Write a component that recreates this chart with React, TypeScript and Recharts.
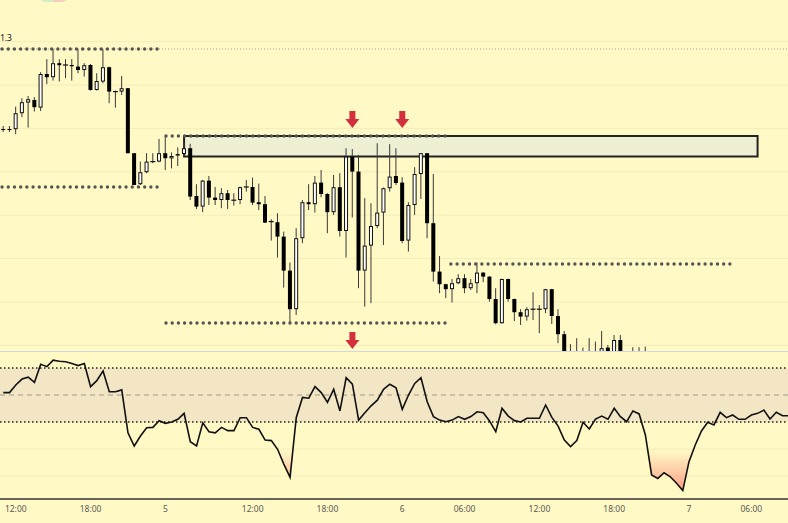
import React from 'react';
import {
  ComposedChart, Bar, Line, Area, XAxis, YAxis, CartesianGrid,
  ReferenceLine, ReferenceArea, ReferenceDot,
} from 'recharts';

// Prices are in points (1e-5 of the quote), 30-minute candles.
const opens = [
  129600, 129600, 129599, 129679, 129732, 129745, 129707, 129875, 129859, 129929,
  129920, 129920, 129912, 129895, 129920, 129795, 129837, 129909, 129787, 129787,
  129804, 129479, 129324, 129384, 129437, 129437, 129479, 129453, 129467, 129475,
  129504, 129265, 129212, 129342, 129257, 129245, 129279, 129244, 129245, 129310,
  129310, 129234, 129224, 129137, 129134, 129062, 128892, 128699, 129054, 129234,
  129224, 129332, 129275, 129184, 129309, 129090, 129462, 129387, 128892, 129017,
  129115, 129182, 129304, 129365, 129332, 129042, 129220, 129375, 129479, 129129,
  128887, 128824, 128799, 128829, 128854, 128804, 128829, 128882, 128862, 128750,
  128629, 128850, 128750, 128684, 128662, 128699, 128699, 128699, 128799, 128665,
  128574, 128435, 128415, 128435, 128445, 128425, 128455, 128507, 128445, 128545,
  128435, 128490, 128485, 128485,
];
const highs = [
  129615, 129615, 129712, 129754, 129765, 129759, 129884, 129949, 129999, 129949,
  129949, 129950, 129999, 129929, 129925, 129879, 129999, 129912, 129792, 129865,
  129805, 129480, 129437, 129479, 129479, 129550, 129562, 129483, 129508, 129533,
  129526, 129324, 129345, 129365, 129310, 129304, 129295, 129279, 129312, 129345,
  129357, 129327, 129265, 129149, 129179, 129087, 128932, 129104, 129245, 129324,
  129365, 129395, 129279, 129370, 129379, 129504, 129500, 129470, 129254, 129229,
  129529, 129307, 129524, 129504, 129359, 129234, 129409, 129480, 129480, 129375,
  128965, 128826, 128850, 128874, 128874, 128850, 128932, 128884, 128864, 128804,
  128852, 128852, 128752, 128699, 128709, 128784, 128720, 128801, 128801, 128699,
  128590, 128524, 128554, 128507, 128554, 128537, 128590, 128520, 128570, 128570,
  128465, 128509, 128509, 128512,
];
const lows = [
  129585, 129585, 129574, 129659, 129607, 129687, 129690, 129824, 129842, 129837,
  129854, 129842, 129879, 129862, 129792, 129792, 129829, 129729, 129707, 129770,
  129478, 129319, 129320, 129379, 129429, 129434, 129395, 129403, 129415, 129462,
  129245, 129200, 129184, 129220, 129220, 129204, 129200, 129217, 129224, 129287,
  129220, 129195, 129130, 129042, 128957, 128807, 128629, 128670, 129029, 129195,
  129182, 129259, 129079, 129170, 129062, 128957, 129157, 128804, 128712, 128729,
  129104, 129020, 129287, 129320, 129029, 128987, 129170, 129250, 129054, 128837,
  128779, 128754, 128732, 128824, 128779, 128795, 128779, 128834, 128737, 128624,
  128627, 128737, 128640, 128620, 128642, 128645, 128579, 128679, 128625, 128529,
  128405, 128385, 128375, 128395, 128385, 128405, 128435, 128415, 128425, 128405,
  128385, 128445, 128435, 128345,
];
const closes = [
  129598, 129598, 129679, 129734, 129749, 129709, 129875, 129859, 129929, 129919,
  129920, 129914, 129895, 129919, 129795, 129840, 129909, 129787, 129787, 129804,
  129479, 129320, 129384, 129437, 129437, 129479, 129454, 129465, 129475, 129504,
  129262, 129212, 129342, 129257, 129245, 129279, 129245, 129244, 129309, 129310,
  129232, 129224, 129132, 129137, 129062, 128892, 128699, 129054, 129234, 129224,
  129332, 129275, 129184, 129309, 129090, 129462, 129387, 128892, 129017, 129115,
  129182, 129304, 129362, 129330, 129040, 129220, 129375, 129479, 129129, 128887,
  128824, 128799, 128829, 128854, 128804, 128829, 128882, 128862, 128750, 128629,
  128850, 128750, 128684, 128662, 128699, 128699, 128699, 128799, 128665, 128574,
  128435, 128415, 128435, 128445, 128425, 128455, 128504, 128445, 128545, 128435,
  128415, 128485, 128485, 128370,
];
const rsi = [
  50.9, 50.9, 53.7, 55.9, 56.6, 54.7, 61.4, 60.5, 62.9, 62.5,
  62.3, 61.7, 60.9, 61.7, 53.1, 55.3, 58.9, 51.2, 51.2, 51.9,
  36.0, 31.1, 34.8, 37.9, 38.0, 40.5, 39.5, 40.0, 41.0, 43.2,
  32.7, 31.1, 39.7, 36.4, 36.0, 38.0, 36.8, 36.8, 41.6, 41.6,
  38.0, 37.3, 33.3, 33.1, 29.9, 24.4, 19.5, 41.7, 49.1, 48.8,
  53.1, 50.9, 47.3, 52.1, 44.1, 56.4, 54.0, 40.7, 43.4, 46.0,
  48.1, 52.1, 54.0, 52.7, 44.7, 50.0, 54.3, 56.4, 47.5, 42.0,
  40.7, 40.1, 40.7, 42.0, 41.0, 42.0, 43.8, 43.4, 40.4, 36.4,
  45.1, 42.2, 40.5, 40.0, 41.4, 41.4, 41.4, 46.3, 41.7, 38.5,
  33.3, 30.9, 33.1, 39.9, 37.4, 41.1, 42.2, 41.0, 45.1, 42.0,
  40.1, 44.1, 43.0, 35.2, 20.4, 19.1, 21.2, 19.7, 17.3, 14.6,
  25.3, 31.5, 36.7, 39.9, 38.9, 43.6, 41.6, 42.6, 41.0, 41.0,
  42.6, 43.2, 44.4, 41.1, 43.6, 42.3, 42.3,
];

const tickIdx = [2, 14, 26, 40, 52, 64, 74, 86, 98, 110, 120];
const tickLabels = ['12:00', '18:00', '5', '12:00', '18:00', '6', '06:00', '12:00', '18:00', '7', '06:00'];

const levelFrom = [-0.2, -0.2, 26.1, 26.1, 71.8];
const levelTo = [25.1, 25.3, 71.1, 71.1, 117.1];
const levelPrice = [130000, 129310, 129565, 128630, 128925];

const zoneFrom = 29;
const zoneTo = 121;
const zoneLow = 129463;
const zoneHigh = 129565;

const arrowIdx = [56, 64, 56];
const arrowPrice = [129605, 129605, 128500];

const gridPrices = [130145, 130037, 129928, 129820, 129711, 129603, 129494, 129386, 129277, 129169, 129060, 128952, 128843, 128735, 128626, 128518];

const priceLabel = '1.3';

const rsiUpper = 60;
const rsiMid = 50;
const rsiLower = 40;
const rsiOversold = 30;

const data = rsi.map((v, i) => ({
  idx: i,
  rsi: v,
  o: i < opens.length ? opens[i] : null,
  h: i < opens.length ? highs[i] : null,
  l: i < opens.length ? lows[i] : null,
  c: i < opens.length ? closes[i] : null,
  hl: i < opens.length ? [lows[i], highs[i]] : null,
}));

const rsiMax = Math.max(...rsi);
const rsiMin = Math.min(...rsi);
const osOffset = (rsiMax - rsiOversold) / (rsiMax - rsiMin);
const osMid = osOffset + (1 - osOffset) * 0.35;

const X_DOMAIN: [number, number] = [-0.53, 125.88];
const BG = '#fff9c5';

const Candle = (props: any) => {
  const { x, y, width, height, payload } = props;
  if (!payload || payload.o == null || x == null || y == null) return null;
  const { o, c, h, l } = payload;
  const cx = x + width / 2;
  const top = Math.min(y, y + height);
  const H = Math.abs(height);
  const span = h - l || 1;
  const py = (v: number) => top + ((h - v) / span) * H;
  const bTop = py(Math.max(o, c));
  const bBot = py(Math.min(o, c));
  const bh = bBot - bTop;
  let body;
  if (o === c) {
    body = <rect x={cx - 2.5} y={bTop - 0.6} width={5} height={1.2} fill="#111" />;
  } else if (c > o) {
    body = <rect x={cx - 1.5} y={bTop + 0.5} width={3} height={Math.max(bh - 1, 0.5)} fill="#ffffff" stroke="#111" strokeWidth={1} />;
  } else {
    body = <rect x={cx - 2} y={bTop} width={4} height={Math.max(bh, 1)} fill="#000" />;
  }
  return (
    <g>
      <line x1={cx} x2={cx} y1={top} y2={top + H} stroke="#3a3a3a" strokeWidth={1} />
      {body}
    </g>
  );
};

const Arrow = (props: any) => {
  const { cx, cy } = props;
  if (cx == null || cy == null) return null;
  const d = `M${cx - 3},${cy - 17} L${cx + 3},${cy - 17} L${cx + 3},${cy - 9} L${cx + 7},${cy - 9} L${cx},${cy} L${cx - 7},${cy - 9} L${cx - 3},${cy - 9} Z`;
  return <path d={d} fill="#d3303d" />;
};

const renderTick = (p: any) => {
  const k = tickIdx.indexOf(p.payload.value);
  return (
    <text x={p.x} y={p.y + 12.5} textAnchor="middle" fontSize={8.5} fontFamily="'Noto Sans', sans-serif" fill="#5a5a5a">
      {k >= 0 ? tickLabels[k] : ''}
    </text>
  );
};

export default function App() {
  return (
    <div style={{ position: 'absolute', left: 0, top: 0, width: 788, height: 523, overflow: 'hidden', background: BG }}>
      <div style={{ position: 'absolute', left: 0, top: 0 }}>
        <ComposedChart width={788} height={352} data={data} margin={{ top: 0, right: 0, bottom: 0, left: 0 }}>
          <CartesianGrid horizontal vertical={false} stroke="#f4ecba" horizontalValues={gridPrices} />
          <XAxis dataKey="idx" type="number" domain={X_DOMAIN} allowDataOverflow hide />
          <YAxis type="number" domain={[128485, 130245]} allowDataOverflow hide ticks={gridPrices} />
          <ReferenceLine y={levelPrice[0]} stroke="#a9a58c" strokeWidth={1} strokeDasharray="1 2" />
          <ReferenceArea x1={zoneFrom} x2={zoneTo} y1={zoneLow} y2={zoneHigh} fill="#efefd3" fillOpacity={1} stroke="#222" strokeWidth={2} />
          {levelPrice.map((p, k) => (
            <ReferenceLine
              key={`lv${k}`}
              segment={[{ x: levelFrom[k], y: p }, { x: levelTo[k], y: p }]}
              stroke="#555"
              strokeWidth={3.4}
              strokeDasharray="0 6.2"
              strokeLinecap="round"
            />
          ))}
          <Bar dataKey="hl" barSize={6} shape={Candle} isAnimationActive={false} />
          {arrowIdx.map((ix, k) => (
            <ReferenceDot key={`ar${k}`} x={ix} y={arrowPrice[k]} r={1} shape={Arrow} />
          ))}
        </ComposedChart>
      </div>
      <div style={{ position: 'absolute', left: 0, top: 32, fontSize: 9, lineHeight: '11px', letterSpacing: -0.4, fontFamily: "'Noto Sans', sans-serif", color: '#1a1a2e' }}>{priceLabel}</div>
      <div style={{ position: 'absolute', left: 40, top: -8, width: 27, height: 10, borderRadius: 5, background: 'linear-gradient(90deg, #d4ebc4 50%, #f7ccbb 50%)' }} />
      <div style={{ position: 'absolute', left: 0, top: 351, width: 788, height: 1, background: '#cfd6e6' }} />
      <div style={{ position: 'absolute', left: 0, top: 352 }}>
        <ComposedChart width={788} height={171} data={data} margin={{ top: 0, right: 0, bottom: 0, left: 0 }}>
          <defs>
            <linearGradient id="osGrad" x1="0" y1="0" x2="0" y2="1">
              <stop offset={0} stopColor="#ffe0b8" stopOpacity={0} />
              <stop offset={osOffset} stopColor="#ffe0b8" stopOpacity={0} />
              <stop offset={osMid} stopColor="#ffcfa8" stopOpacity={0.7} />
              <stop offset={1} stopColor="#ff9882" stopOpacity={1} />
            </linearGradient>
          </defs>
          <CartesianGrid horizontal vertical={false} stroke="#f4ecba" horizontalValues={[20, 30]} />
          <ReferenceArea y1={rsiLower} y2={rsiUpper} fill="#f2e6c5" fillOpacity={1} stroke="none" />
          <XAxis
            dataKey="idx"
            type="number"
            domain={X_DOMAIN}
            allowDataOverflow
            ticks={tickIdx}
            interval={0}
            height={24}
            tickLine={false}
            tickSize={0}
            tickMargin={0}
            axisLine={{ stroke: '#333', strokeWidth: 1.5 }}
            tick={renderTick}
          />
          <YAxis type="number" domain={[11.48, 65.93]} allowDataOverflow hide />
          <Area dataKey="rsi" baseValue={rsiOversold} type="linear" stroke="none" fill="url(#osGrad)" fillOpacity={1} isAnimationActive={false} />
          <ReferenceLine y={rsiUpper} stroke="#222" strokeWidth={1.5} strokeDasharray="1.5 2.5" />
          <ReferenceLine y={rsiLower} stroke="#222" strokeWidth={1.5} strokeDasharray="1.5 2.5" />
          <ReferenceLine y={rsiMid} stroke="#a09a88" strokeWidth={1} strokeDasharray="5 4" />
          <Line dataKey="rsi" type="linear" stroke="#111" strokeWidth={1.6} dot={false} activeDot={false} isAnimationActive={false} />
        </ComposedChart>
      </div>
    </div>
  );
}
